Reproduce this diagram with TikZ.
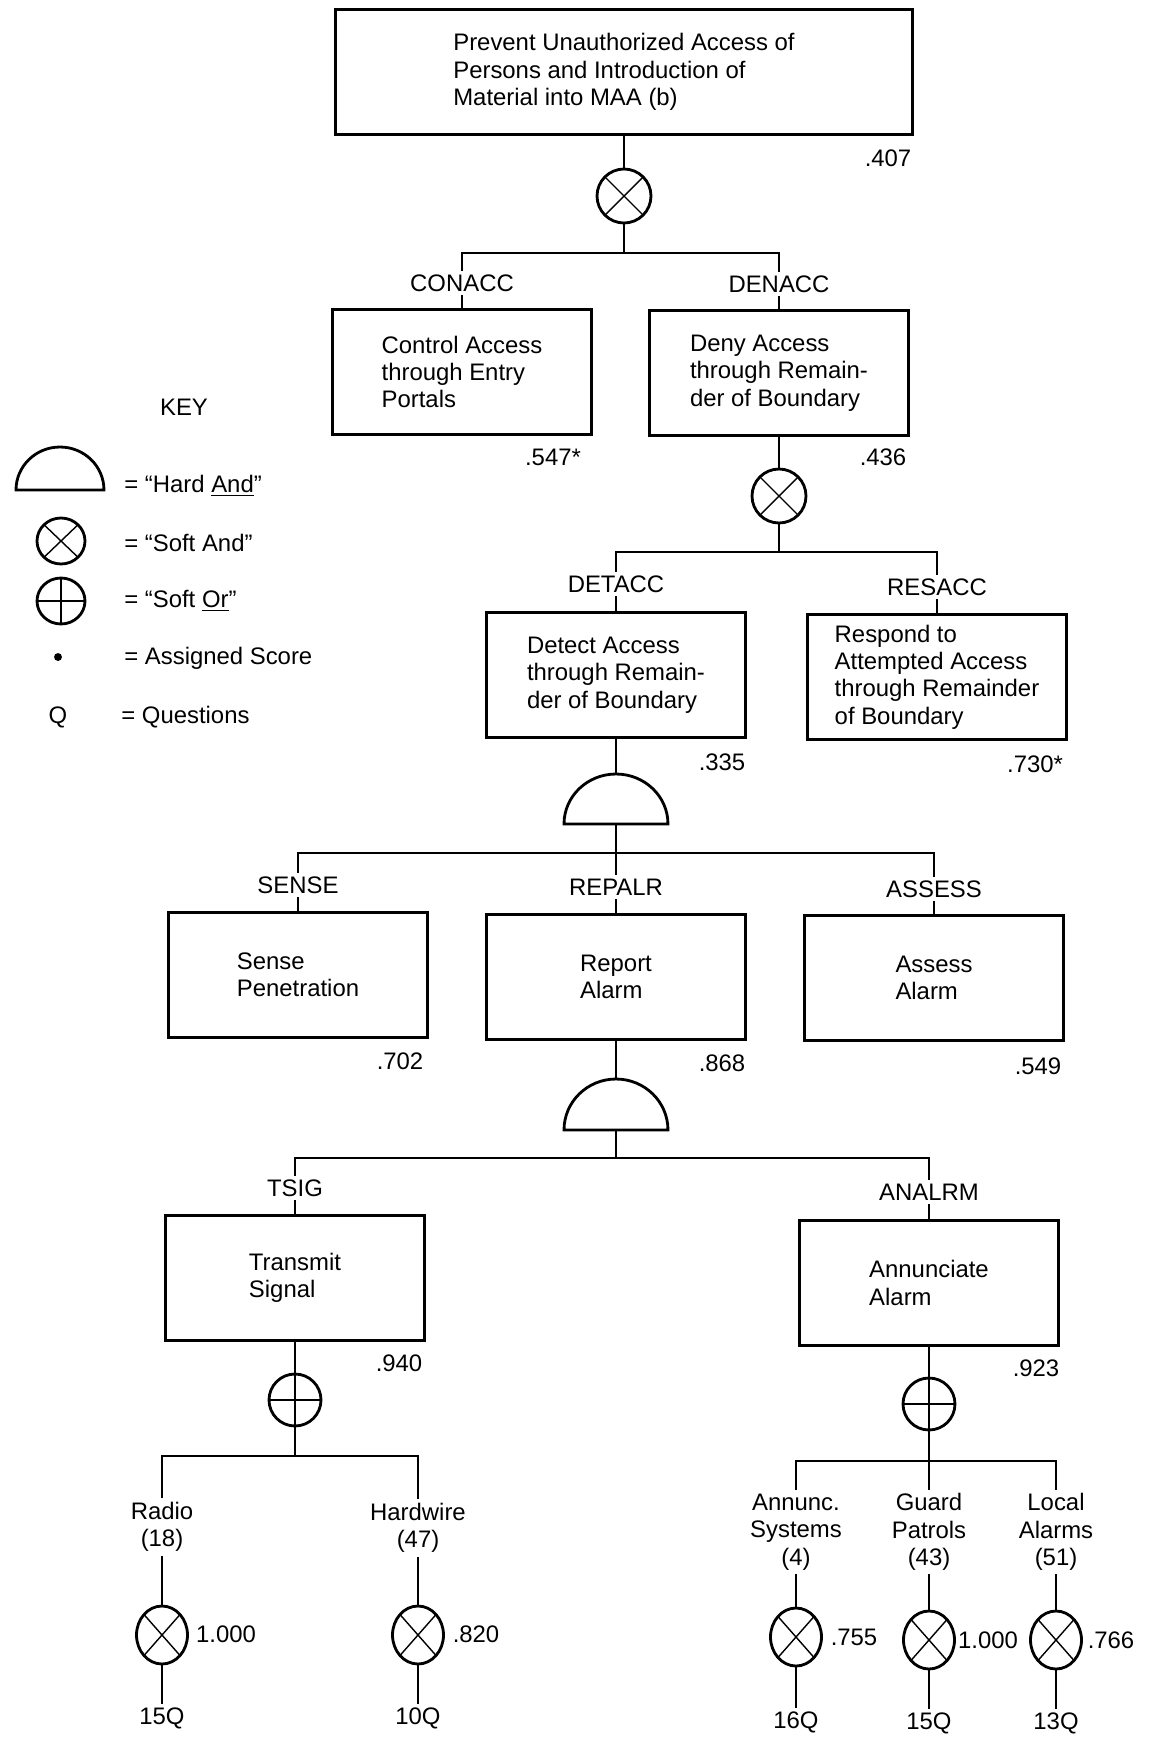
\documentclass[tikz,border=0pt]{standalone}
\usepackage{fontspec}
\setmainfont{Liberation Sans}
\usetikzlibrary{shapes.geometric}

\begin{document}
\begin{tikzpicture}[x=0.02cm,y=-0.02cm,
  font=\fontsize{13.6}{15.6}\selectfont,
  box/.style={rectangle,draw,line width=1.7pt,minimum width=5.2cm,minimum height=2.5cm,align=left,inner sep=2pt},
  tag/.style={inner sep=2pt},
  val/.style={inner sep=0pt},
  wire/.style={line width=0.9pt},
  gate/.style={line width=1.6pt},
  sand/.style={ellipse,draw,line width=1.6pt,inner sep=0pt,minimum width=1.08cm,minimum height=1.08cm,
    path picture={\draw[line width=0.8pt] (path picture bounding box.north west) -- (path picture bounding box.south east)
      (path picture bounding box.south west) -- (path picture bounding box.north east);}},
  sor/.style={ellipse,draw,line width=1.6pt,inner sep=0pt,minimum width=1.04cm,minimum height=1.04cm,
    path picture={\draw[line width=0.8pt] (path picture bounding box.north) -- (path picture bounding box.south)
      (path picture bounding box.west) -- (path picture bounding box.east);}},
  leaf/.style={sand,minimum width=1.02cm,minimum height=1.16cm},
  lbl/.style={align=center,inner sep=2pt},
  keytxt/.style={anchor=west,inner sep=0pt}]
  \useasboundingbox (0,0) rectangle (1149,1741);
  % --- top event ---
  \node[box,minimum width=11.56cm,minimum height=2.52cm] (prevent) at (624,72)
    {Prevent Unauthorized Access of\\Persons and Introduction of\\Material into MAA (b)};
  \node[val] (vprevent) at (888,158) {.407};
  \node[sand] (g1) at (624,196) {};
  \coordinate (j1) at (624,253);
  \draw[wire] (prevent.south) -- (g1.north) (g1.south) -- (j1);
  % --- CONACC / DENACC ---
  \node[tag] (lconacc) at (462,283) {CONACC};
  \node[tag] (ldenacc) at (779,284) {DENACC};
  \draw[wire] (lconacc.north) |- (j1) -| (ldenacc.north);
  \node[box] (conacc) at (462,372) {Control Access\\through Entry\\Portals};
  \node[box] (denacc) at (779,373) {Deny Access\\through Remain-\\der of Boundary};
  \draw[wire] (lconacc.south) -- (conacc.north) (ldenacc.south) -- (denacc.north);
  \node[val] (vconacc) at (553,457) {.547*};
  \node[val] (vdenacc) at (883,457) {.436};
  \node[sand] (g2) at (779,496) {};
  \coordinate (j2) at (779,552);
  \draw[wire] (denacc.south) -- (g2.north) (g2.south) -- (j2);
  % --- DETACC / RESACC ---
  \node[tag] (ldetacc) at (616,584) {DETACC};
  \node[tag] (lresacc) at (937,587) {RESACC};
  \draw[wire] (ldetacc.north) |- (j2) -| (lresacc.north);
  \node[box] (detacc) at (616,675) {Detect Access\\through Remain-\\der of Boundary};
  \node[box] (resacc) at (937,677) {Respond to\\Attempted Access\\through Remainder\\of Boundary};
  \draw[wire] (ldetacc.south) -- (detacc.north) (lresacc.south) -- (resacc.north);
  \node[val] (vdetacc) at (722,762) {.335};
  \node[val] (vresacc) at (1035,764) {.730*};
  \draw[gate] (564,824) arc[start angle=180,end angle=0,x radius=1.04cm,y radius=1cm] -- cycle;
  \coordinate (h1t) at (616,774);
  \coordinate (h1b) at (616,824);
  \coordinate (j3) at (616,853);
  \draw[wire] (detacc.south) -- (h1t);
  % --- SENSE / REPALR / ASSESS ---
  \node[tag] (lsense) at (298,885) {SENSE};
  \node[tag] (lrepalr) at (616,887) {REPALR};
  \node[tag] (lassess) at (934,889) {ASSESS};
  \draw[wire] (lsense.north) |- (j3) -| (lassess.north);
  \draw[wire] (h1b) -- (lrepalr.north);
  \node[box] (sense) at (298,975) {Sense\\Penetration};
  \node[box] (repalr) at (616,977) {Report\\Alarm};
  \node[box] (assess) at (934,978) {Assess\\Alarm};
  \draw[wire] (lsense.south) -- (sense.north) (lrepalr.south) -- (repalr.north)
    (lassess.south) -- (assess.north);
  \node[val] (vsense) at (400,1061) {.702};
  \node[val] (vrepalr) at (722,1063) {.868};
  \node[val] (vassess) at (1038,1066) {.549};
  \draw[gate] (564,1130) arc[start angle=180,end angle=0,x radius=1.04cm,y radius=1.02cm] -- cycle;
  \coordinate (h2t) at (616,1079);
  \coordinate (h2b) at (616,1130);
  \coordinate (j4) at (616,1158);
  \draw[wire] (repalr.south) -- (h2t) (h2b) -- (j4);
  % --- TSIG / ANALRM ---
  \node[tag] (ltsig) at (295,1188) {TSIG};
  \node[tag] (lanalrm) at (929,1192) {ANALRM};
  \draw[wire] (ltsig.north) |- (j4) -| (lanalrm.north);
  \node[box] (tsig) at (295,1278) {Transmit\\Signal};
  \node[box] (analrm) at (929,1283) {Annunciate\\Alarm};
  \draw[wire] (ltsig.south) -- (tsig.north) (lanalrm.south) -- (analrm.north);
  \node[val] (vtsig) at (399,1363) {.940};
  \node[val] (vanalrm) at (1036,1368) {.923};
  % --- leaves under TSIG ---
  \node[sor] (g3) at (295,1400) {};
  \coordinate (j5) at (295,1456);
  \draw[wire] (tsig.south) -- (g3.north) (g3.south) -- (j5);
  \node[lbl] (lradio) at (162,1527) {Radio\\(18)};
  \node[lbl] (lhard) at (418,1528) {Hardwire\\(47)};
  \draw[wire] (lradio.north) |- (j5) -| (lhard.north);
  \node[leaf] (radio) at (162,1635) {};
  \node[leaf] (hard) at (418,1635) {};
  \node[val] (vradio) at (226,1634) {1.000};
  \node[val] (vhard) at (476,1634) {.820};
  \node[tag] (qradio) at (162,1718) {15Q};
  \node[tag] (qhard) at (418,1718) {10Q};
  \draw[wire] (lradio.south) -- (radio.north) (radio.south) -- (qradio.north)
    (lhard.south) -- (hard.north) (hard.south) -- (qhard.north);
  % --- leaves under ANALRM ---
  \node[sor] (g4) at (929,1404) {};
  \coordinate (j6) at (929,1461);
  \draw[wire] (analrm.south) -- (g4.north) (g4.south) -- (j6);
  \node[lbl] (lannunc) at (796,1532) {Annunc.\\Systems\\(4)};
  \node[lbl] (lguard) at (929,1532) {Guard\\Patrols\\(43)};
  \node[lbl] (llocal) at (1056,1532) {Local\\Alarms\\(51)};
  \draw[wire] (lannunc.north) |- (j6) -| (llocal.north) (j6) -- (lguard.north);
  \node[leaf] (annunc) at (796,1637) {};
  \node[leaf] (guard) at (929,1640) {};
  \node[leaf] (local) at (1056,1640) {};
  \node[val] (vannunc) at (854,1637) {.755};
  \node[val] (vguard) at (988,1640) {1.000};
  \node[val] (vlocal) at (1111,1640) {.766};
  \node[tag] (qannunc) at (796,1722) {16Q};
  \node[tag] (qguard) at (929,1723) {15Q};
  \node[tag] (qlocal) at (1056,1723) {13Q};
  \draw[wire] (lannunc.south) -- (annunc.north) (annunc.south) -- (qannunc.north)
    (lguard.south) -- (guard.north) (guard.south) -- (qguard.north)
    (llocal.south) -- (local.north) (local.south) -- (qlocal.north);
  % --- key ---
  \node (key) at (184,407) {KEY};
  \draw[gate] (16,490) arc[start angle=180,end angle=0,x radius=0.88cm,y radius=0.86cm] -- cycle;
  \node[keytxt] (khard) at (124,486) {= ``Hard \underline{And}''};
  \node[sand,minimum width=0.96cm,minimum height=0.92cm] (ksand) at (61,541) {};
  \node[keytxt] (ksandt) at (124,543) {= ``Soft And''};
  \node[sor,minimum width=0.96cm,minimum height=0.92cm] (ksor) at (61,601) {};
  \node[keytxt] (ksort) at (124,601) {= ``Soft \underline{Or}''};
  \node[circle,fill,inner sep=0pt,minimum size=4.5pt] (kdot) at (58,657) {};
  \node[keytxt] (kdott) at (124,658) {= Assigned Score};
  \node (kq) at (58,717) {Q};
  \node[keytxt] (kqt) at (121,717) {= Questions};
\end{tikzpicture}
\end{document}
